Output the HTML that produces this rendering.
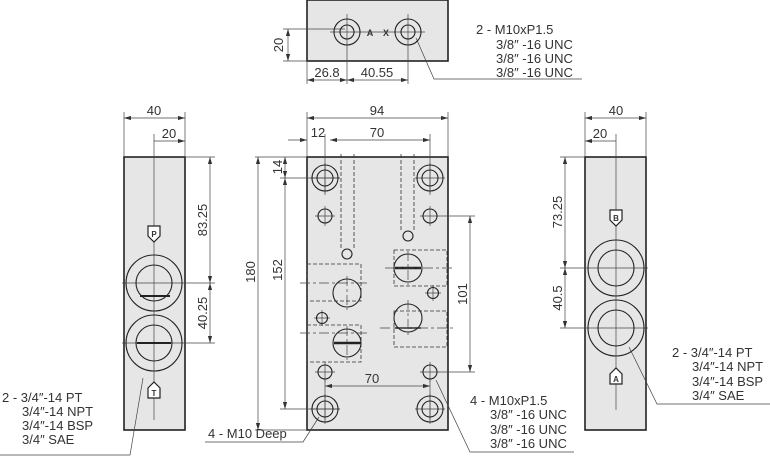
<!DOCTYPE html>
<html><head><meta charset="utf-8"><style>
html,body{margin:0;padding:0;background:#fff;width:770px;height:472px;overflow:hidden}
svg{display:block}
text{font-family:"Liberation Sans",sans-serif;font-size:13px;fill:#333}
</style></head><body>
<svg width="770" height="472" viewBox="0 0 770 472" xmlns="http://www.w3.org/2000/svg">
<defs>
<marker id="a" viewBox="0 0 10 6" refX="10" refY="3" markerWidth="10" markerHeight="6" orient="auto-start-reverse"><path d="M0,0 L10,3 L0,6 z" fill="#333"/></marker>
</defs>
<g stroke="#222" stroke-width="1" fill="none">
<rect x="307" y="0" width="141" height="61" fill="#e6e6e6" stroke-width="1.6"/>
<rect x="124" y="157" width="61" height="273" fill="#e6e6e6" stroke-width="1.6"/>
<rect x="307" y="157" width="141" height="273" fill="#e6e6e6" stroke-width="1.6"/>
<rect x="585" y="157" width="61" height="273" fill="#e6e6e6" stroke-width="1.6"/>
</g>
<g stroke="#444" stroke-width="0.7" fill="none">
<line x1="283" y1="29" x2="345" y2="29"/><line x1="283" y1="61" x2="307" y2="61"/>
<line x1="288" y1="29" x2="288" y2="61" marker-start="url(#a)" marker-end="url(#a)"/>
<line x1="307" y1="61" x2="307" y2="84"/><line x1="347" y1="14" x2="347" y2="84"/><line x1="408" y1="14" x2="408" y2="84"/>
<line x1="307" y1="80" x2="347" y2="80" marker-start="url(#a)" marker-end="url(#a)"/>
<line x1="347" y1="80" x2="408" y2="80" marker-start="url(#a)" marker-end="url(#a)"/>
<line x1="330" y1="32" x2="425" y2="32"/>
<polyline points="416,38 434,79 582,79"/>
<line x1="124" y1="112" x2="124" y2="157"/><line x1="185" y1="112" x2="185" y2="157"/>
<line x1="124" y1="118" x2="185" y2="118" marker-start="url(#a)" marker-end="url(#a)"/>
<line x1="154" y1="134" x2="154" y2="420"/>
<line x1="154" y1="141" x2="185" y2="141" marker-end="url(#a)"/>
<line x1="185" y1="157" x2="215" y2="157"/><line x1="122" y1="283" x2="215" y2="283"/><line x1="122" y1="343" x2="215" y2="343"/>
<line x1="210" y1="157" x2="210" y2="283" marker-start="url(#a)" marker-end="url(#a)"/>
<line x1="210" y1="283" x2="210" y2="343" marker-start="url(#a)" marker-end="url(#a)"/>
<polyline points="143,378 130,455 0,455"/>
<line x1="307" y1="112" x2="307" y2="157"/><line x1="448" y1="112" x2="448" y2="157"/>
<line x1="307" y1="118" x2="448" y2="118" marker-start="url(#a)" marker-end="url(#a)"/>
<line x1="325" y1="134" x2="325" y2="195"/><line x1="430" y1="134" x2="430" y2="195"/>
<line x1="288" y1="140" x2="307" y2="140" marker-end="url(#a)"/>
<line x1="330" y1="140" x2="430" y2="140" marker-start="url(#a)" marker-end="url(#a)"/>
<line x1="255" y1="157" x2="307" y2="157"/><line x1="280" y1="178" x2="340" y2="178"/>
<line x1="285" y1="157" x2="285" y2="178" marker-start="url(#a)" marker-end="url(#a)"/>
<line x1="285" y1="178" x2="285" y2="409" marker-start="url(#a)" marker-end="url(#a)"/>
<line x1="258" y1="157" x2="258" y2="430" marker-start="url(#a)" marker-end="url(#a)"/>
<line x1="280" y1="409" x2="340" y2="409"/><line x1="255" y1="430" x2="307" y2="430"/>
<line x1="440" y1="216" x2="475" y2="216"/><line x1="440" y1="372" x2="475" y2="372"/>
<line x1="470" y1="216" x2="470" y2="372" marker-start="url(#a)" marker-end="url(#a)"/>
<line x1="325" y1="380" x2="325" y2="420"/><line x1="430" y1="380" x2="430" y2="420"/>
<line x1="325" y1="386" x2="430" y2="386" marker-start="url(#a)" marker-end="url(#a)"/>
<polyline points="319,417 303,442 205,442"/>
<polyline points="436,380 470,452 574,452"/>
<line x1="585" y1="112" x2="585" y2="157"/><line x1="646" y1="112" x2="646" y2="157"/>
<line x1="585" y1="118" x2="646" y2="118" marker-start="url(#a)" marker-end="url(#a)"/>
<line x1="616" y1="134" x2="616" y2="410"/>
<line x1="585" y1="141" x2="616" y2="141" marker-start="url(#a)"/>
<line x1="560" y1="157" x2="585" y2="157"/><line x1="560" y1="268" x2="648" y2="268"/><line x1="560" y1="328" x2="648" y2="328"/>
<line x1="565" y1="157" x2="565" y2="268" marker-start="url(#a)" marker-end="url(#a)"/>
<line x1="565" y1="268" x2="565" y2="328" marker-start="url(#a)" marker-end="url(#a)"/>
<polyline points="629,347 657,404 770,404"/>
<!-- crosshairs -->
<path d="M310,178 h30 M325,163 v30 M415,178 h30 M430,163 v30 M310,409 h30 M325,394 v30 M415,409 h30 M430,394 v30"/>
<path d="M315,216 h20 M325,206 v20 M420,216 h20 M430,206 v20 M315,372 h20 M325,362 v20 M420,372 h20 M430,362 v20"/>
<path d="M314,318 h16 M322,310 v16 M425,293 h16 M433,285 v16"/>
</g>
<g stroke="#222" stroke-width="1.1" fill="none">
<circle cx="347" cy="32" r="13"/><circle cx="347" cy="32" r="7"/>
<circle cx="408" cy="32" r="13"/><circle cx="408" cy="32" r="7"/>
<circle cx="154" cy="283" r="28"/><circle cx="154" cy="283" r="18"/>
<circle cx="154" cy="343" r="28"/><circle cx="154" cy="343" r="18"/>
<line x1="140" y1="296" x2="170" y2="296" stroke-width="2"/>
<line x1="137" y1="343" x2="171" y2="343" stroke-width="2"/>
<circle cx="616" cy="268" r="28"/><circle cx="616" cy="268" r="18"/>
<circle cx="616" cy="328" r="28"/><circle cx="616" cy="328" r="18"/>
<circle cx="325" cy="178" r="13"/><circle cx="325" cy="178" r="8"/>
<circle cx="430" cy="178" r="13"/><circle cx="430" cy="178" r="8"/>
<circle cx="325" cy="409" r="13"/><circle cx="325" cy="409" r="8"/>
<circle cx="430" cy="409" r="13"/><circle cx="430" cy="409" r="8"/>
<circle cx="325" cy="216" r="7"/><circle cx="430" cy="216" r="7"/>
<circle cx="325" cy="372" r="7"/><circle cx="430" cy="372" r="7"/>
<circle cx="322" cy="318" r="5.5"/><circle cx="433" cy="293" r="5.5"/>
<circle cx="347" cy="254" r="5"/><circle cx="408" cy="236" r="5"/>
<circle cx="347" cy="293" r="14"/><circle cx="347" cy="343" r="14"/>
<circle cx="408" cy="268" r="14"/><circle cx="408" cy="318" r="14"/>
<line x1="334" y1="343" x2="361" y2="343" stroke-width="2.5"/>
<line x1="395" y1="268" x2="421" y2="268" stroke-width="2.5"/>
<line x1="395" y1="328" x2="421" y2="328" stroke-width="1.5"/>
</g>
<g stroke="#333" stroke-width="0.8" fill="none" stroke-dasharray="4,2">
<path d="M341,154 V250 M354,154 V250"/><path d="M401,154 V232 M414,154 V232"/>
<rect x="307" y="264" width="54" height="37"/>
<rect x="307" y="325" width="54" height="37"/>
<rect x="394" y="250" width="53" height="36"/>
<rect x="394" y="311" width="53" height="36"/>
</g>
<g stroke="#444" stroke-width="0.7" stroke-dasharray="10,3,3,3" fill="none">
<line x1="300" y1="283" x2="370" y2="283"/><line x1="300" y1="333" x2="370" y2="333"/>
<line x1="385" y1="268" x2="455" y2="268"/><line x1="380" y1="328" x2="455" y2="328"/>
<line x1="347" y1="276" x2="347" y2="310"/><line x1="347" y1="326" x2="347" y2="360"/>
<line x1="408" y1="251" x2="408" y2="285"/><line x1="408" y1="300" x2="408" y2="336"/>
</g>
<g stroke="#222" stroke-width="1.2" fill="#fff">
<path d="M148,226 h12 v10 l-6,6 l-6,-6 z"/>
<path d="M148,398 h12 v-10 l-6,-6 l-6,6 z"/>
<path d="M610,210 h12 v10 l-6,6 l-6,-6 z"/>
<path d="M610,384 h12 v-10 l-6,-6 l-6,6 z"/>
</g>
<g text-anchor="middle">
<text x="154" y="237" style="font-size:8px;font-weight:bold">P</text>
<text x="154" y="396" style="font-size:8px;font-weight:bold">T</text>
<text x="616" y="221" style="font-size:8px;font-weight:bold">B</text>
<text x="616" y="382" style="font-size:8px;font-weight:bold">A</text>
<text x="370" y="36" style="font-size:9px;font-weight:bold">A</text>
<text x="386" y="36" style="font-size:9px;font-weight:bold">X</text>
</g>
<text x="283" y="45" transform="rotate(-90 283 45)" text-anchor="middle">20</text>
<text x="327" y="77" text-anchor="middle">26.8</text>
<text x="377" y="77" text-anchor="middle">40.55</text>
<text x="476" y="34">2 - M10xP1.5</text>
<text x="496" y="49">3/8″ -16 UNC</text>
<text x="496" y="63">3/8″ -16 UNC</text>
<text x="496" y="77">3/8″ -16 UNC</text>
<text x="154" y="115" text-anchor="middle">40</text>
<text x="169" y="138" text-anchor="middle">20</text>
<text x="207" y="220" transform="rotate(-90 207 220)" text-anchor="middle">83.25</text>
<text x="207" y="313" transform="rotate(-90 207 313)" text-anchor="middle">40.25</text>
<text x="2" y="402">2 - 3/4″-14 PT</text>
<text x="22" y="416">3/4″-14 NPT</text>
<text x="22" y="430">3/4″-14 BSP</text>
<text x="22" y="444">3/4″ SAE</text>
<text x="377" y="115" text-anchor="middle">94</text>
<text x="318" y="137" text-anchor="middle">12</text>
<text x="377" y="137" text-anchor="middle">70</text>
<text x="282" y="167" transform="rotate(-90 282 167)" text-anchor="middle">14</text>
<text x="282" y="270" transform="rotate(-90 282 270)" text-anchor="middle">152</text>
<text x="255" y="272" transform="rotate(-90 255 272)" text-anchor="middle">180</text>
<text x="467" y="294" transform="rotate(-90 467 294)" text-anchor="middle">101</text>
<text x="372" y="383" text-anchor="middle">70</text>
<text x="208" y="438">4 - M10 Deep</text>
<text x="470" y="405">4 - M10xP1.5</text>
<text x="490" y="419">3/8″ -16 UNC</text>
<text x="490" y="434">3/8″ -16 UNC</text>
<text x="490" y="448">3/8″ -16 UNC</text>
<text x="616" y="115" text-anchor="middle">40</text>
<text x="600" y="138" text-anchor="middle">20</text>
<text x="562" y="212" transform="rotate(-90 562 212)" text-anchor="middle">73.25</text>
<text x="562" y="298" transform="rotate(-90 562 298)" text-anchor="middle">40.5</text>
<text x="672" y="357">2 - 3/4″-14 PT</text>
<text x="692" y="371">3/4″-14 NPT</text>
<text x="692" y="386">3/4″-14 BSP</text>
<text x="692" y="400">3/4″ SAE</text>
</svg>
</body></html>
